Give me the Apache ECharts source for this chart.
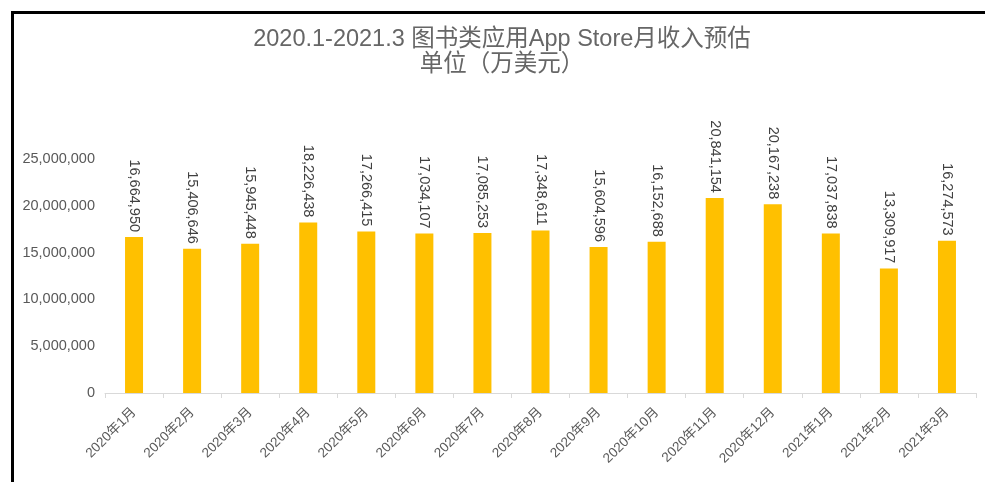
<!DOCTYPE html>
<html>
<head>
<meta charset="utf-8">
<script src="https://cdn.jsdelivr.net/npm/echarts@6/dist/echarts.min.js"></script>
<style>
html,body{margin:0;padding:0;background:#fff;}
#chart{width:985px;height:482px;}
</style>
</head>
<body>
<div id="chart"></div>
<script>
const titleLines = ['2020.1-2021.3 图书类应用App Store月收入预估', '单位（万美元）'];
const categories = ['2020年1月','2020年2月','2020年3月','2020年4月','2020年5月','2020年6月','2020年7月','2020年8月','2020年9月','2020年10月','2020年11月','2020年12月','2021年1月','2021年2月','2021年3月'];
const revenue = [16664950, 15406646, 15945448, 18226438, 17266415, 17034107, 17085253, 17348611, 15604596, 16152688, 20841154, 20167238, 17037838, 13309917, 16274573];
const yMin = 0, yMax = 25000000, yStep = 5000000;

const fmt = v => Number(v).toLocaleString('en-US');
const FONT = '"Liberation Sans", "Noto Sans CJK SC", sans-serif';

const chart = echarts.init(document.getElementById('chart'));
chart.setOption({
  backgroundColor: '#ffffff',
  animation: false,
  title: {
    text: titleLines.join('\n'),
    left: 497,
    textAlign: 'center',
    top: 22,
    textStyle: { fontFamily: FONT, fontSize: 23.5, fontWeight: 'normal', color: '#666666', lineHeight: 25 }
  },
  graphic: [
    { type: 'line', shape: { x1: 11, y1: 12.5, x2: 985, y2: 12.5 }, style: { stroke: '#000', lineWidth: 3 } },
    { type: 'line', shape: { x1: 12.5, y1: 11, x2: 12.5, y2: 482 }, style: { stroke: '#000', lineWidth: 3 } }
  ],
  grid: { left: 105, right: 9, top: 159, bottom: 89, containLabel: false },
  xAxis: {
    type: 'category',
    data: categories,
    axisLine: { lineStyle: { color: '#d9d9d9', width: 1 } },
    axisTick: { show: true, length: 5, lineStyle: { color: '#d9d9d9' } },
    axisLabel: { rotate: 45, fontSize: 13.5, color: '#595959', fontFamily: FONT, margin: 17, interval: 0 }
  },
  yAxis: {
    type: 'value',
    min: yMin, max: yMax, interval: yStep,
    axisLine: { show: false },
    axisTick: { show: false },
    splitLine: { show: false },
    axisLabel: { fontSize: 14.5, color: '#595959', fontFamily: FONT, margin: 10, formatter: v => fmt(v) }
  },
  series: [{
    type: 'bar',
    data: revenue,
    barWidth: 18,
    itemStyle: { color: '#FFC000' },
    label: {
      show: true,
      position: 'top',
      distance: 5,
      rotate: -90,
      align: 'right',
      verticalAlign: 'middle',
      fontSize: 14.5,
      color: '#404040',
      fontFamily: FONT,
      formatter: p => fmt(p.value)
    }
  }]
});
</script>
</body>
</html>
